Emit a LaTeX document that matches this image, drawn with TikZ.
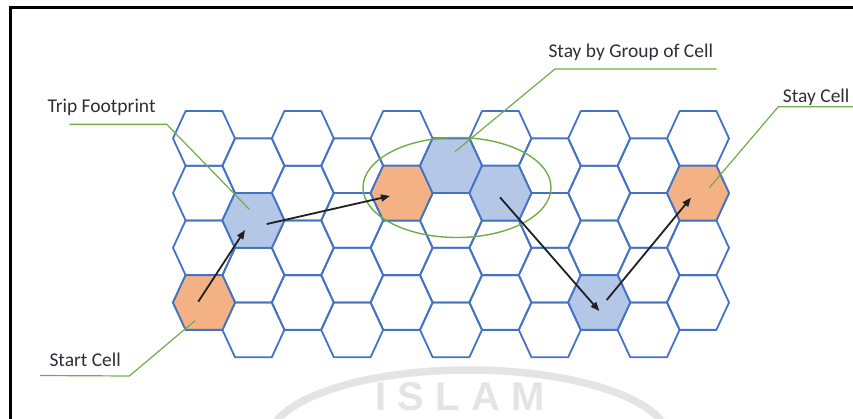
\documentclass[tikz,border=0pt]{standalone}
\usepackage{fontspec}
\setmainfont{Carlito}
\newfontfamily\wmfont[LetterSpace=28]{Liberation Sans}
\usetikzlibrary{arrows.meta,calc}
\definecolor{hexblue}{HTML}{4472C4}
\definecolor{fillblue}{HTML}{B4C7E7}
\definecolor{fillorange}{HTML}{F4B183}
\definecolor{callgreen}{HTML}{70AD47}
\definecolor{txt}{HTML}{2E2E38}
\definecolor{arrowc}{HTML}{202020}
\definecolor{wmgray}{HTML}{E4E4E4}
\tikzset{
  hexagon/.pic={\path[pic actions] (-31,0) -- (-18.4,-27.35) -- (18.4,-27.35) -- (31,0) -- (18.4,27.35) -- (-18.4,27.35) -- cycle;},
  hexline/.style={draw=hexblue, line width=1.8pt, line join=round},
  bluecell/.style={hexline, fill=fillblue},
  orangecell/.style={hexline, fill=fillorange},
  callout/.style={draw=callgreen, line width=1.2pt},
  trip/.style={draw=arrowc, line width=1.8pt, -{Triangle[length=9pt,width=7pt]}},
  lbl/.style={text=txt, font=\fontsize{19.5}{22}\selectfont, anchor=base west, inner sep=0pt},
}
\begin{document}
\begin{tikzpicture}[x=1pt,y=-1pt]
\useasboundingbox (0,0) rectangle (853,419);
% watermark
\begin{scope}
\clip (0,0) rectangle (853,419);
\draw[wmgray, line width=7.5pt] (469,440) ellipse [x radius=200, y radius=70];
\end{scope}
\node[text=wmgray, font=\wmfont\bfseries\fontsize{40}{40}\selectfont, anchor=base west, inner sep=0pt] (wmtext) at (375,410) {ISLAM};
% frame
\draw[line width=3pt] (10.7,419) -- (10.7,7.8) -- (853,7.8);
% hex centres
\foreach \i in {1,...,11}{
  \foreach \j in {1,...,4}{
    \pgfmathsetmacro\cx{204+49.4*(\i-1)}
    \pgfmathsetmacro\cy{138.4+54.7*(\j-1)+27.35*(1-mod(\i,2))}
    \coordinate (h-\i-\j) at (\cx,\cy);
  }
}
% hex grid
\foreach \i in {1,...,11}{
  \foreach \j in {1,...,4}{
    \pic[hexline] at (h-\i-\j) {hexagon};
  }
}
\pic[orangecell] at (h-1-4) {hexagon};
\pic[bluecell] at (h-2-2) {hexagon};
\pic[orangecell] at (h-5-2) {hexagon};
\pic[bluecell] at (h-6-1) {hexagon};
\pic[bluecell] at (h-7-2) {hexagon};
\pic[bluecell] at (h-9-4) {hexagon};
\pic[orangecell] at (h-11-2) {hexagon};
% group ellipse
\draw[callgreen, line width=1.4pt] (457,187.5) ellipse [x radius=94, y radius=50];
% labels
\node[lbl] (ltrip) at (47.3,112.7) {Trip Footprint};
\node[lbl] (lgroup) at (548.3,57.7) {Stay by Group of Cell};
\node[lbl] (lstay) at (782.7,102.7) {Stay Cell};
\node[lbl] (lstart) at (49.3,366.7) {Start Cell};
% callout lines
\coordinate (tripA) at (69.3,124.3);
\coordinate (tripB) at (166.7,124.3);
\coordinate (tripE) at (249.3,209.3);
\draw[callout] (tripA) -- (tripB) -- (tripE);
\coordinate (grpA) at (716.7,69);
\coordinate (grpB) at (555,69);
\coordinate (grpE) at (455,151.7);
\draw[callout] (grpA) -- (grpB) -- (grpE);
\coordinate (stayA) at (853,106.7);
\coordinate (stayB) at (778.3,106.7);
\coordinate (stayE) at (709.3,187.7);
\draw[callout] (stayA) -- (stayB) -- (stayE);
\coordinate (startA) at (40,375.5);
\coordinate (startB) at (129.3,376);
\coordinate (startE) at (195,320.7);
\draw[callout] (startA) -- (startB) -- (startE);
% trip arrows
\draw[trip] ($(h-1-4)+(-5.7,-0.8)$) -- ($(h-2-2)+(-8.4,9.6)$);
\draw[trip] ($(h-2-2)+(13.3,3.6)$) -- ($(h-5-2)+(-11.6,2.9)$);
\draw[trip] ($(h-7-2)+(-0.4,4.2)$) -- ($(h-9-4)+(0.1,8.5)$);
\draw[trip] ($(h-9-4)+(7.5,-2.5)$) -- ($(h-11-2)+(-7,4.6)$);
\end{tikzpicture}
\end{document}
